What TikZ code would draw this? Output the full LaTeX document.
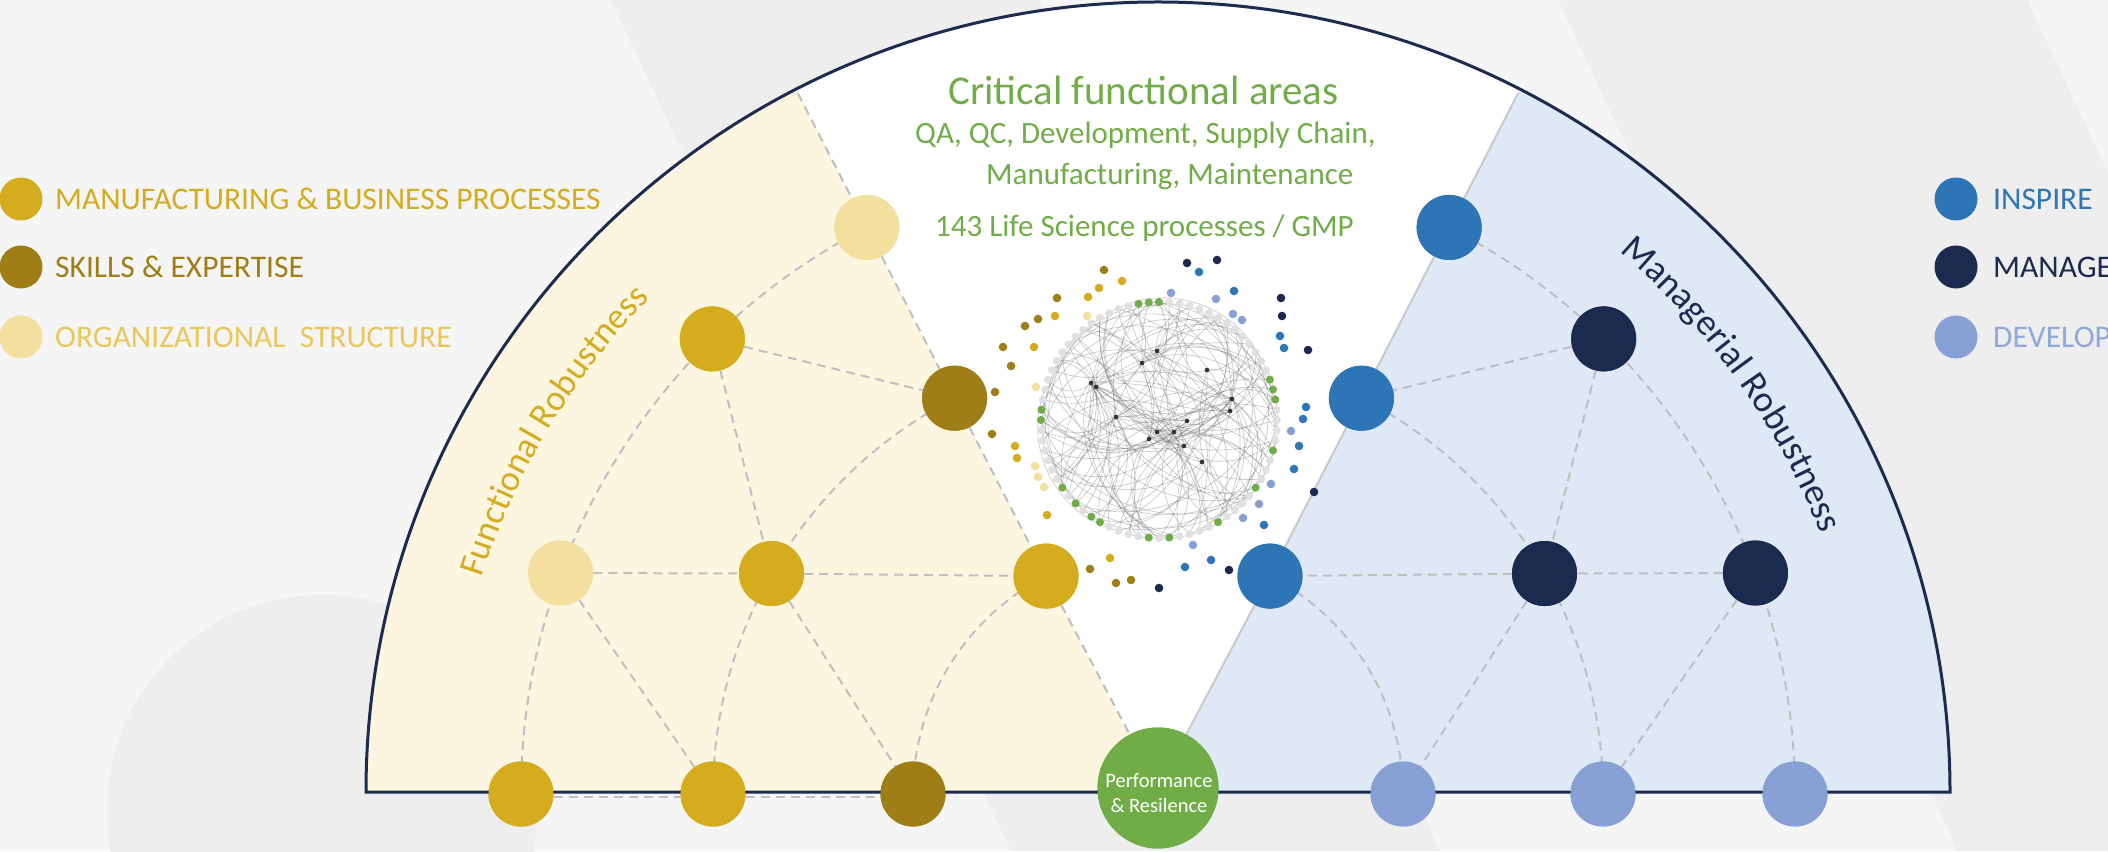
\documentclass[tikz,border=0pt]{standalone}
\usepackage{fontspec}
\setmainfont{Carlito}
\usetikzlibrary{decorations.text}
\definecolor{bgA}{HTML}{F5F5F5}
\definecolor{bgB}{HTML}{EEEEEE}
\definecolor{gold}{HTML}{D4AC1D}
\definecolor{dgold}{HTML}{9F7E17}
\definecolor{lgold}{HTML}{F3DF9E}
\definecolor{orgtxt}{HTML}{EAC75C}
\definecolor{iblue}{HTML}{2E75B6}
\definecolor{navy}{HTML}{1B2A4E}
\definecolor{dev}{HTML}{87A0D6}
\definecolor{devtxt}{HTML}{8EA8DC}
\definecolor{pgreen}{HTML}{70AD47}
\definecolor{yfill}{HTML}{FCF5DF}
\definecolor{bfill}{HTML}{DEE9F5}
\definecolor{border}{HTML}{1C2B4F}
\definecolor{dgray}{HTML}{BFBFBF}
\definecolor{ringgray}{HTML}{E0E0E0}
\definecolor{hubcol}{HTML}{333333}
\tikzset{
  bignode/.style={circle, inner sep=0pt, minimum size=65pt},
  link/.style={draw=dgray, line width=2pt, dash pattern=on 9pt off 6pt},
  edgeline/.style={draw=dgray!85, line width=2pt},
  legdot/.style={circle, inner sep=0pt, minimum size=43pt},
  legtext/.style={anchor=base west, inner sep=0pt, font=\fontsize{31.5}{36}\selectfont},
  subtitle/.style={anchor=base west, inner sep=0pt, text=pgreen, font=\fontsize{31}{36}\selectfont},
  netedge/.style={draw=black!65, opacity=0.3, line width=0.7pt},
}
\begin{document}
\begin{tikzpicture}[x=1pt,y=1pt]
\useasboundingbox (0,0) rectangle (2108,851);
\clip (0,0) rectangle (2108,851);
% background
\fill[bgA] (0,0) rectangle (2108,851);
\fill[bgB] (611,851) -- (1040,851) -- (1440,0) -- (1011,0) -- cycle;
\fill[bgB] (1558,851) -- (2027,851) -- (2427,0) -- (1958,0) -- cycle;
\fill[bgB] (322,41) circle (215);
% arch
\coordinate (C) at (1158,57);
\fill[white] (366,59) arc[start angle=180, end angle=0, x radius=792, y radius=790] -- cycle;
\fill[yfill] (366,59) arc[start angle=180, end angle=117.2, x radius=792, y radius=790] -- (1158,59) -- cycle;
\fill[bfill] (1950,59) arc[start angle=0, end angle=62.8, x radius=792, y radius=790] -- (1158,59) -- cycle;
\coordinate (cL) at ([shift={(117.2:788)}]C);
\coordinate (cR) at ([shift={(62.8:788)}]C);
% ring arcs
\foreach \r in {637,445,245}{
  \draw[link] ([shift={(117.2:\r)}]C) arc[start angle=117.2, end angle=180, radius=\r];
  \draw[link] ([shift={(62.8:\r)}]C) arc[start angle=62.8, end angle=0, radius=\r];
}
% nodes (placed, drawn later on top)
\node[bignode, fill=lgold] (os1) at ([shift={(117.2:637)}]C) {};
\node[bignode, fill=gold]  (mb1) at ([shift={(134.4:637)}]C) {};
\node[bignode, fill=lgold] (os2) at ([shift={(159.7:637)}]C) {};
\node[bignode, fill=gold]  (mb4) at ([shift={(180:637)}]C) {};
\node[bignode, fill=dgold] (se1) at ([shift={(117.2:445)}]C) {};
\node[bignode, fill=gold]  (mb2) at ([shift={(150.3:445)}]C) {};
\node[bignode, fill=gold]  (mb5) at ([shift={(180:445)}]C) {};
\node[bignode, fill=gold]  (mb3) at ([shift={(117.2:245)}]C) {};
\node[bignode, fill=dgold] (se2) at ([shift={(180:245)}]C) {};
\node[bignode, fill=iblue] (in1) at ([shift={(62.8:637)}]C) {};
\node[bignode, fill=navy]  (ma1) at ([shift={(45.6:637)}]C) {};
\node[bignode, fill=navy]  (ma3) at ([shift={(20.3:637)}]C) {};
\node[bignode, fill=dev]   (dv3) at ([shift={(0:637)}]C) {};
\node[bignode, fill=iblue] (in2) at ([shift={(62.8:445)}]C) {};
\node[bignode, fill=navy]  (ma2) at ([shift={(29.7:445)}]C) {};
\node[bignode, fill=dev]   (dv2) at ([shift={(0:445)}]C) {};
\node[bignode, fill=iblue] (in3) at ([shift={(62.8:245)}]C) {};
\node[bignode, fill=dev]   (dv1) at ([shift={(0:245)}]C) {};
\node[circle, inner sep=0pt, minimum size=121pt, fill=pgreen] (perf) at (1158,63) {};
% wedge edges
\draw[link] (cL) -- (os1) -- (se1) -- (mb3) -- (perf);
\draw[edgeline] (cR) -- (in1) -- (in2) -- (in3) -- (perf);
% straight links
\draw[link] (mb1) -- (se1);
\draw[link] (os2) -- (mb2);
\draw[link] (mb2) -- (mb3);
\draw[link] (mb1) -- (mb2);
\draw[link] (os2) -- (mb5);
\draw[link] (mb2) -- (se2);
\draw[link] (ma1) -- (in2);
\draw[link] (ma3) -- (ma2);
\draw[link] (ma2) -- (in3);
\draw[link] (ma1) -- (ma2);
\draw[link] (ma3) -- (dv2);
\draw[link] (ma2) -- (dv1);
\draw[link] ([yshift=-3pt]mb4.east) -- ([yshift=-3pt]mb5.west);
\draw[link] ([yshift=-3pt]mb5.east) -- ([yshift=-3pt]se2.west);
% arch border
\draw[border, line width=3pt, line join=miter] (366,59) arc[start angle=180, end angle=0, x radius=792, y radius=790] -- cycle;
% redraw nodes on top
\foreach \n/\c in {os1/lgold,mb1/gold,os2/lgold,mb4/gold,se1/dgold,mb2/gold,mb5/gold,mb3/gold,se2/dgold,in1/iblue,ma1/navy,ma3/navy,dv3/dev,in2/iblue,ma2/navy,dv2/dev,in3/iblue,dv1/dev}{
  \fill[\c] (\n) circle (32.5pt);
}
\fill[pgreen] (perf) circle (60.5pt);
\node[text=white, align=center, font=\fontsize{20.5}{25}\selectfont] (perftext) at (1159,58) {Performance\\\& Resilence};
% titles
\node[anchor=base west, inner sep=0pt, text=pgreen, font=\fontsize{41}{48}\selectfont] (title) at (948,746) {Critical functional areas};
\node[subtitle] (sub1) at (915,707) {QA, QC, Development, Supply Chain,};
\node[subtitle] (sub2) at (986,666) {Manufacturing, Maintenance};
\node[subtitle] (sub3) at (935,614) {143 Life Science processes / GMP};
% curved labels
\path[decorate, decoration={text along path, text align=center,
  text={|\fontsize{36}{40}\selectfont\color{gold}|Functional Robustness}}]
  ([shift={(175:710)}]C) arc[start angle=175, end angle=123, radius=710];
\path[decorate, decoration={text along path, text align=center,
  text={|\fontsize{37}{40}\selectfont\color{navy}|Managerial Robustness}}]
  ([shift={(63:712)}]C) arc[start angle=63, end angle=8, radius=712];
% legend left
\node[legdot, fill=gold] (k1) at (21,652) {};
\node[legdot, fill=dgold] (k2) at (21,584) {};
\node[legdot, fill=lgold] (k3) at (21,514) {};
\node[legtext, text=gold] (t1) at (55,641) {MANUFACTURING \& BUSINESS PROCESSES};
\node[legtext, text=dgold] (t2) at (55,573) {SKILLS \& EXPERTISE};
\node[legtext, text=orgtxt] (t3) at (55,503) {ORGANIZATIONAL~~STRUCTURE};
% legend right
\node[legdot, fill=iblue] (k4) at (1956,652) {};
\node[legdot, fill=navy] (k5) at (1956,584) {};
\node[legdot, fill=dev] (k6) at (1956,514) {};
\node[legtext, text=iblue] (t4) at (1993,641) {INSPIRE};
\node[legtext, text=navy] (t5) at (1993,573) {MANAGE};
\node[legtext, text=devtxt] (t6) at (1993,503) {DEVELOP};
% network
\coordinate (net) at (1159,431);
\foreach \n/\x/\y in {0/1157/500,1/1142/488,2/1207/481,3/1091/468,4/1096/464,5/1232/452,6/1230/440,7/1116/434,8/1187/430,9/1157/419,10/1174/419,11/1149/412,12/1184/405,13/1202/389}{
  \coordinate (h\n) at (\x,\y);
}
\pgfmathsetseed{11}
\foreach \i in {0,...,71}{
  \pgfmathrandominteger{\ha}{0}{13}
  \pgfmathrandominteger{\ba}{25}{55}
  \pgfmathrandominteger{\sa}{0}{1}
  \pgfmathsetmacro\ba{(2*\sa-1)*\ba}
  \draw[netedge] ([shift={(\i*5:118)}]net) to[bend left=\ba] (h\ha);
  \pgfmathrandominteger{\hb}{0}{13}
  \pgfmathrandominteger{\bb}{20}{50}
  \pgfmathrandominteger{\sb}{0}{1}
  \pgfmathsetmacro\bb{(2*\sb-1)*\bb}
  \draw[netedge] ([shift={(\i*5:118)}]net) to[bend left=\bb] (h\hb);
}
\foreach \i in {0,3,...,69}{
  \pgfmathrandominteger{\j}{16}{34}
  \pgfmathsetmacro\k{\i*5+\j*5}
  \draw[netedge] ([shift={(\i*5:118)}]net) to[bend right=50] ([shift={(\k:118)}]net);
}
\foreach \i in {0,...,71}{
  \fill[ringgray] ([shift={(\i*5:118)}]net) circle (4pt);
}
\foreach \g in {2,3,4,18,19,20,35,36,43,45,47,48,53,55,60,65,69}{
  \fill[pgreen] ([shift={(\g*5:118)}]net) circle (4pt);
}
\foreach \n in {0,...,13}{ \fill[hubcol] (h\n) circle (2.3pt); }
\foreach \x/\y/\c in {1104/581/dgold,1122/570/gold,1099/563/gold,1057/553/dgold,1088/554/gold,1055/535/gold,1087/535/lgold,1025/525/dgold,1038/532/dgold,1003/504/dgold,1034/504/gold,1011/485/dgold,995/459/dgold,1036/464/lgold,992/417/dgold,1015/405/gold,1017/393/gold,1035/385/lgold,1038/374/lgold,1044/364/lgold,1047/336/gold,1110/293/gold,1090/282/dgold,1116/268/dgold,1131/271/dgold,1159/263/navy,
1187/588/navy,1217/591/navy,1199/579/iblue,1171/558/dev,1216/552/dev,1234/560/iblue,1233/537/dev,1242/531/dev,1281/553/navy,1282/535/navy,1280/515/iblue,1284/503/iblue,1308/501/navy,1306/444/iblue,1303/432/iblue,1291/420/dev,1299/405/iblue,1294/382/iblue,1271/367/dev,1259/347/dev,1243/333/dev,1264/326/iblue,1314/359/navy,1193/306/dev,1185/284/iblue,1211/291/iblue,1229/281/navy}{
  \fill[\c] (\x,\y) circle (4.3pt);
}
\end{tikzpicture}
\end{document}
